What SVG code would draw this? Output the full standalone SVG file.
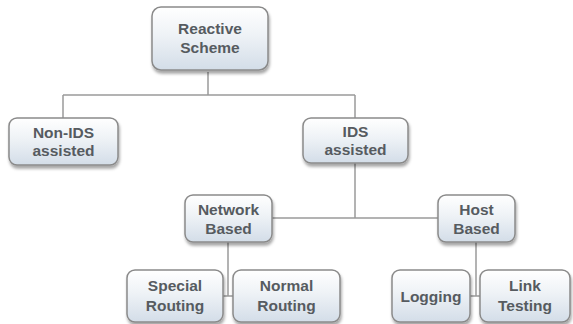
<svg xmlns="http://www.w3.org/2000/svg" width="573" height="324" viewBox="0 0 573 324">
  <defs>
    <linearGradient id="boxFill" x1="0" y1="0" x2="0" y2="1">
      <stop offset="0" stop-color="#ffffff"/>
      <stop offset="0.45" stop-color="#eef2f6"/>
      <stop offset="1" stop-color="#d3dde8"/>
    </linearGradient>
    <filter id="shadow" x="-10%" y="-10%" width="125%" height="135%">
      <feDropShadow dx="1" dy="3" stdDeviation="1.8" flood-color="#000" flood-opacity="0.35"/>
    </filter>
  </defs>
  <style>
    .box { fill: url(#boxFill); stroke: #8a8a8a; stroke-width: 1.5; filter: url(#shadow); }
    .label { font-family: "Liberation Sans", Arial, sans-serif; font-weight: bold; font-size: 15.5px; fill: #565b60; text-anchor: middle; }
    .wire { stroke: #9a9a9a; stroke-width: 1.5; fill: none; }
  </style>
  <rect width="573" height="324" fill="#ffffff"/>

  <g id="connectors">
    <path class="wire" d="M208 72 V95 M63 95 H355 M63 95 V118 M355 95 V118"/>
    <path class="wire" d="M355 163 V218 M272 218 H438"/>
    <path class="wire" d="M228 242 V296 M223 296 H233"/>
    <path class="wire" d="M476 242 V296 M470 296 H480"/>
  </g>

  <g id="reactive-scheme">
    <rect class="box" x="152" y="7" width="116" height="63" rx="9"/>
    <text class="label" x="210" y="34" font-size="16.5">Reactive</text>
    <text class="label" x="210" y="53" font-size="16.5">Scheme</text>
  </g>
  <g id="non-ids-assisted">
    <rect class="box" x="9" y="118" width="109" height="47" rx="8"/>
    <text class="label" x="63.5" y="138">Non-IDS</text>
    <text class="label" x="63.5" y="156">assisted</text>
  </g>
  <g id="ids-assisted">
    <rect class="box" x="303" y="118" width="105" height="45" rx="8"/>
    <text class="label" x="355.5" y="137">IDS</text>
    <text class="label" x="355.5" y="155">assisted</text>
  </g>
  <g id="network-based">
    <rect class="box" x="185" y="195" width="87" height="47" rx="8"/>
    <text class="label" x="228.5" y="215">Network</text>
    <text class="label" x="228.5" y="234">Based</text>
  </g>
  <g id="host-based">
    <rect class="box" x="438" y="195" width="77" height="47" rx="8"/>
    <text class="label" x="476.5" y="215">Host</text>
    <text class="label" x="476.5" y="234">Based</text>
  </g>
  <g id="special-routing">
    <rect class="box" x="127" y="270" width="96" height="52" rx="8"/>
    <text class="label" x="175" y="291">Special</text>
    <text class="label" x="175" y="311">Routing</text>
  </g>
  <g id="normal-routing">
    <rect class="box" x="233" y="270" width="107" height="52" rx="8"/>
    <text class="label" x="286.5" y="291">Normal</text>
    <text class="label" x="286.5" y="311">Routing</text>
  </g>
  <g id="logging">
    <rect class="box" x="392" y="270" width="78" height="52" rx="8"/>
    <text class="label" x="431" y="302">Logging</text>
  </g>
  <g id="link-testing">
    <rect class="box" x="480" y="270" width="90" height="52" rx="8"/>
    <text class="label" x="525" y="291">Link</text>
    <text class="label" x="525" y="311">Testing</text>
  </g>
</svg>
